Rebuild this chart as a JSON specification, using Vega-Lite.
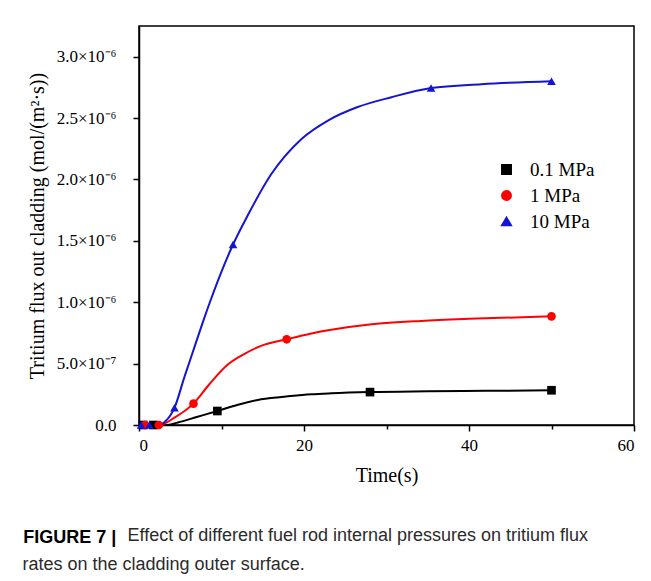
{
  "$schema": "https://vega.github.io/schema/vega-lite/v6.json",
  "padding": {"top": 25, "left": 22, "right": 5, "bottom": 5},
  "background": "white",
  "config": {
    "font": "Liberation Serif",
    "view": {"stroke": "#000", "strokeWidth": 1.5},
    "concat": {"spacing": 0},
    "axis": {
      "grid": false,
      "domainColor": "#000",
      "domainWidth": 1.5,
      "tickColor": "#000",
      "tickWidth": 1.5,
      "labelColor": "#000",
      "labelFont": "Liberation Serif",
      "labelFontSize": 17,
      "titleFont": "Liberation Serif",
      "titleFontSize": 20,
      "titleFontWeight": "normal",
      "titleColor": "#000"
    },
    "title": {
      "orient": "bottom",
      "anchor": "start",
      "font": "Liberation Sans",
      "fontSize": 18,
      "fontWeight": "normal",
      "color": "#2b2b2b"
    }
  },
  "datasets": {
    "curves": [
      {"series": "0.1 MPa", "time": 0, "flux": 0},
      {"series": "0.1 MPa", "time": 3.5, "flux": 0},
      {"series": "0.1 MPa", "time": 4.7, "flux": 2e-8},
      {"series": "0.1 MPa", "time": 7, "flux": 6.5e-8},
      {"series": "0.1 MPa", "time": 9.5, "flux": 1.14e-7},
      {"series": "0.1 MPa", "time": 12, "flux": 1.65e-7},
      {"series": "0.1 MPa", "time": 14.8, "flux": 2.09e-7},
      {"series": "0.1 MPa", "time": 18.4, "flux": 2.36e-7},
      {"series": "0.1 MPa", "time": 20.9, "flux": 2.5e-7},
      {"series": "0.1 MPa", "time": 23.3, "flux": 2.58e-7},
      {"series": "0.1 MPa", "time": 28, "flux": 2.68e-7},
      {"series": "0.1 MPa", "time": 35, "flux": 2.74e-7},
      {"series": "0.1 MPa", "time": 42, "flux": 2.78e-7},
      {"series": "0.1 MPa", "time": 50, "flux": 2.83e-7},
      {"series": "1 MPa", "time": 0, "flux": 0},
      {"series": "1 MPa", "time": 2.7, "flux": 5e-9},
      {"series": "1 MPa", "time": 4.3, "flux": 6e-8},
      {"series": "1 MPa", "time": 6.6, "flux": 1.74e-7},
      {"series": "1 MPa", "time": 8.5, "flux": 3.3e-7},
      {"series": "1 MPa", "time": 10.8, "flux": 4.95e-7},
      {"series": "1 MPa", "time": 12.8, "flux": 5.8e-7},
      {"series": "1 MPa", "time": 14.8, "flux": 6.45e-7},
      {"series": "1 MPa", "time": 17.9, "flux": 6.98e-7},
      {"series": "1 MPa", "time": 20.9, "flux": 7.45e-7},
      {"series": "1 MPa", "time": 23.3, "flux": 7.75e-7},
      {"series": "1 MPa", "time": 28.2, "flux": 8.2e-7},
      {"series": "1 MPa", "time": 34.2, "flux": 8.48e-7},
      {"series": "1 MPa", "time": 40, "flux": 8.65e-7},
      {"series": "1 MPa", "time": 50, "flux": 8.85e-7},
      {"series": "10 MPa", "time": 0, "flux": 0},
      {"series": "10 MPa", "time": 2.5, "flux": 0},
      {"series": "10 MPa", "time": 3.2, "flux": 3e-8},
      {"series": "10 MPa", "time": 4.3, "flux": 1.4e-7},
      {"series": "10 MPa", "time": 5.5, "flux": 3.9e-7},
      {"series": "10 MPa", "time": 6.7, "flux": 6.3e-7},
      {"series": "10 MPa", "time": 7.7, "flux": 8.3e-7},
      {"series": "10 MPa", "time": 8.7, "flux": 1.02e-6},
      {"series": "10 MPa", "time": 10, "flux": 1.25e-6},
      {"series": "10 MPa", "time": 11.4, "flux": 1.47e-6},
      {"series": "10 MPa", "time": 13.2, "flux": 1.71e-6},
      {"series": "10 MPa", "time": 16, "flux": 2.04e-6},
      {"series": "10 MPa", "time": 19.7, "flux": 2.33e-6},
      {"series": "10 MPa", "time": 22.9, "flux": 2.48e-6},
      {"series": "10 MPa", "time": 26.5, "flux": 2.59e-6},
      {"series": "10 MPa", "time": 30.6, "flux": 2.67e-6},
      {"series": "10 MPa", "time": 35.4, "flux": 2.745e-6},
      {"series": "10 MPa", "time": 41.5, "flux": 2.776e-6},
      {"series": "10 MPa", "time": 50, "flux": 2.8e-6}
    ],
    "markers": [
      {"series": "0.1 MPa", "time": 0.5, "flux": 0},
      {"series": "0.1 MPa", "time": 1.75, "flux": 0},
      {"series": "0.1 MPa", "time": 9.5, "flux": 1.14e-7},
      {"series": "0.1 MPa", "time": 28, "flux": 2.68e-7},
      {"series": "0.1 MPa", "time": 50, "flux": 2.83e-7},
      {"series": "1 MPa", "time": 0.75, "flux": 0},
      {"series": "1 MPa", "time": 2.4, "flux": 0},
      {"series": "1 MPa", "time": 6.6, "flux": 1.74e-7},
      {"series": "1 MPa", "time": 17.9, "flux": 6.98e-7},
      {"series": "1 MPa", "time": 50, "flux": 8.85e-7},
      {"series": "10 MPa", "time": 0.25, "flux": 0},
      {"series": "10 MPa", "time": 1.25, "flux": 0},
      {"series": "10 MPa", "time": 4.3, "flux": 1.4e-7},
      {"series": "10 MPa", "time": 11.4, "flux": 1.47e-6},
      {"series": "10 MPa", "time": 35.4, "flux": 2.745e-6},
      {"series": "10 MPa", "time": 50, "flux": 2.8e-6}
    ]
  },
  "title": {"text": "rates on the cladding outer surface.", "dx": 0, "dy": 4},
  "vconcat": [
    {
      "title": {"text": "Effect of different fuel rod internal pressures on tritium flux", "dx": 105, "dy": -25},
      "vconcat": [
        {
          "title": {"text": "FIGURE 7 |", "fontWeight": "bold", "color": "#000", "dx": -4, "offset": 44},
          "width": 495,
          "height": 399,
          "layer": [
            {
              "data": {"name": "curves"},
              "mark": {"type": "line", "interpolate": "monotone", "strokeWidth": 2},
              "encoding": {
                "x": {"field": "time", "type": "quantitative"},
                "y": {"field": "flux", "type": "quantitative"},
                "color": {"field": "series", "type": "nominal"}
              }
            },
            {
              "data": {"name": "markers"},
              "mark": {"type": "point", "filled": true, "opacity": 1, "size": 75},
              "encoding": {
                "x": {
                  "field": "time",
                  "type": "quantitative",
                  "scale": {"domain": [0, 60], "nice": false},
                  "axis": {
                    "title": "Time(s)",
                    "values": [0, 10, 20, 30, 40, 50, 60],
                    "labelExpr": "datum.value % 20 == 0 ? datum.label : ''",
                    "tickSize": {"condition": {"test": "datum.value % 20 == 0", "value": 6}, "value": 4},
                    "labelPadding": 6,
                    "titlePadding": 12
                  }
                },
                "y": {
                  "field": "flux",
                  "type": "quantitative",
                  "scale": {"domain": [0, 3.25e-6], "nice": false},
                  "axis": {
                    "title": "Tritium flux out cladding (mol/(m²·s))",
                    "values": [0, 2.5e-7, 5e-7, 7.5e-7, 1e-6, 1.25e-6, 1.5e-6, 1.75e-6, 2e-6, 2.25e-6, 2.5e-6, 2.75e-6, 3e-6],
                    "labelExpr": "datum.value == 0 ? '0.0' : (round(datum.value * 4e6) % 2 == 1) ? '' : datum.value >= 1e-6 ? format(datum.value * 1e6, '.1f') + '×10⁻⁶' : format(datum.value * 1e7, '.1f') + '×10⁻⁷'",
                    "tickSize": {"condition": {"test": "round(datum.value * 4e6) % 2 == 0", "value": 6}, "value": 4},
                    "labelPadding": 17,
                    "titlePadding": 9
                  }
                },
                "color": {
                  "field": "series",
                  "type": "nominal",
                  "scale": {"domain": ["0.1 MPa", "1 MPa", "10 MPa"], "range": ["#000000", "#ff0000", "#1414d2"]},
                  "legend": {
                    "title": null,
                    "orient": "none",
                    "legendX": 358,
                    "legendY": 134,
                    "symbolSize": 80,
                    "symbolStrokeWidth": 2,
                    "labelFont": "Liberation Serif",
                    "labelFontSize": 19,
                    "labelColor": "#000",
                    "labelOffset": 14,
                    "rowPadding": 6
                  }
                },
                "shape": {
                  "field": "series",
                  "type": "nominal",
                  "scale": {"domain": ["0.1 MPa", "1 MPa", "10 MPa"], "range": ["square", "circle", "triangle-up"]}
                }
              }
            }
          ]
        }
      ]
    }
  ]
}
